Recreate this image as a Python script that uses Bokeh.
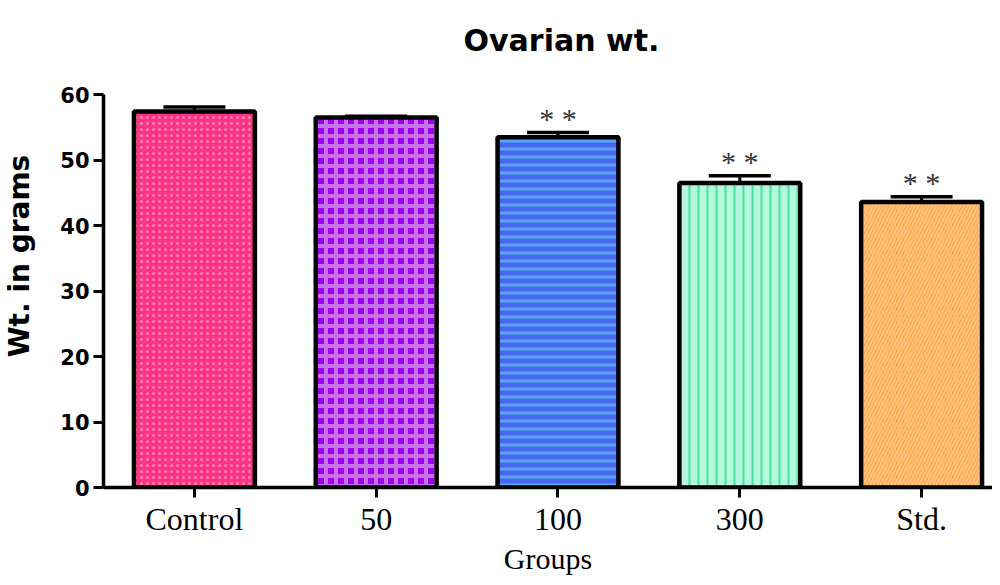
from bokeh.plotting import figure
from bokeh.models import (Range1d, FixedTicker, ColumnDataSource, Label,
                          LabelSet, Whisker, TeeHead)
from bokeh.embed import file_html
from bokeh.resources import INLINE

# ---- data ----
title_text = "Ovarian wt."
groups = ["Control", "50", "100", "300", "Std."]
means = [57.4, 56.5, 53.5, 46.5, 43.6]
sems = [0.7, 0.2, 0.7, 1.1, 0.8]
sig = ["", "", "* *", "* *", "* *"]
y_ticks = [0, 10, 20, 30, 40, 50, 60]

# ---- styles ----
fills = ["#FF3385", "#A000F0", "#4A66EE", "#B4F6DE", "#FF9A30"]
hatch_colors = ["#FF85B2", "#C673E8", "#55A8FA", "#46E49E", "#FFC27E"]
hatch_patterns = ["dot", "cross", "horizontal_line", "vertical_line", "right_diagonal_line"]
hatch_scales = [6, 10, 8, 9, 7]
hatch_weights = [2.5, 4, 3, 2, 2.5]

xs = list(range(len(groups)))
src = ColumnDataSource(dict(
    x=xs, top=means, upper=[m + s for m, s in zip(means, sems)],
    sig=sig, fill=fills, hcol=hatch_colors, hpat=hatch_patterns,
    hscale=hatch_scales, hweight=hatch_weights,
))

W, H = 992, 577
# frame reaches up to hold the title; the y axis itself is bounded to 0..60
p = figure(width=W, height=H, output_backend="svg", toolbar_location=None,
           x_range=Range1d(-0.5, 4.39), y_range=Range1d(0, 70.7),
           min_border_left=102, min_border_right=0, min_border_top=24,
           min_border_bottom=87)
p.outline_line_color = None
p.xgrid.visible = False
p.ygrid.visible = False
p.background_fill_color = "white"

# title placed in screen units relative to the plot frame (bottom-left origin)
p.add_layout(Label(x=458, y=447, x_units="screen", y_units="screen",
                   text=title_text, text_align="center", text_baseline="middle",
                   text_font="DejaVu Sans", text_font_style="bold",
                   text_font_size="30px", text_color="black"))

p.vbar(x="x", top="top", bottom=0, width=0.665, source=src,
       fill_color="fill", line_color="black", line_width=4.5,
       hatch_pattern="hpat", hatch_color="hcol", hatch_scale="hscale",
       hatch_weight="hweight")

p.add_layout(Whisker(base="x", lower="top", upper="upper", source=src,
                     line_color="black", line_width=3,
                     upper_head=TeeHead(size=62, line_color="black", line_width=3.5),
                     lower_head=None))

p.add_layout(LabelSet(x="x", y="upper", text="sig", source=src,
                      text_align="center", text_baseline="alphabetic",
                      y_offset=4, text_font="Liberation Serif",
                      text_font_size="30px", text_color="#333333"))

# axes
xa = p.xaxis[0]
xa.ticker = FixedTicker(ticks=xs)
xa.major_label_overrides = {i: g for i, g in zip(xs, groups)}
xa.minor_tick_line_color = None
xa.axis_line_width = 3.5
xa.major_tick_line_width = 3
xa.major_tick_out = 10
xa.major_tick_in = 0
xa.major_label_standoff = 3
xa.major_label_text_font = "Liberation Serif"
xa.major_label_text_font_size = "32px"
xa.major_label_text_color = "black"
xa.axis_label = "Groups"
xa.axis_label_text_font = "Liberation Serif"
xa.axis_label_text_font_style = "normal"
xa.axis_label_text_font_size = "30px"
xa.axis_label_text_color = "black"
xa.axis_label_standoff = 2

ya = p.yaxis[0]
ya.ticker = FixedTicker(ticks=y_ticks)
ya.bounds = (y_ticks[0], y_ticks[-1])
ya.minor_tick_line_color = None
ya.axis_line_width = 3.5
ya.major_tick_line_width = 3
ya.major_tick_out = 10
ya.major_tick_in = 0
ya.major_label_standoff = 4
ya.major_label_text_font = "DejaVu Sans"
ya.major_label_text_font_style = "bold"
ya.major_label_text_font_size = "21px"
ya.major_label_text_color = "black"
ya.axis_label = "Wt. in grams"
ya.axis_label_text_font = "DejaVu Sans"
ya.axis_label_text_font_style = "bold"
ya.axis_label_text_font_size = "28px"
ya.axis_label_text_color = "black"
ya.axis_label_standoff = 21

open("out.html", "w").write(file_html(p, INLINE))
